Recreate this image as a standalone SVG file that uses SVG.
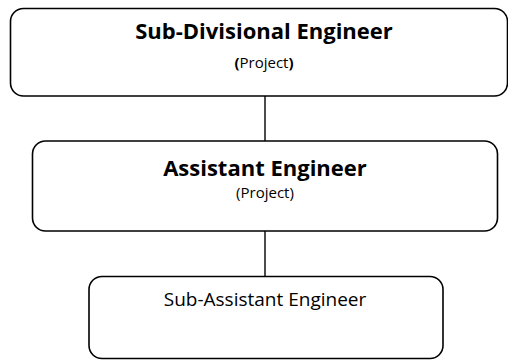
<svg xmlns="http://www.w3.org/2000/svg" width="508" height="360" viewBox="0 0 508 360">
  <style>
    .box { fill: #ffffff; stroke: #000000; stroke-width: 1.6; }
    .link { stroke: #000000; stroke-width: 1.4; fill: none; }
    .title { font-family: "Open Sans", "Noto Sans", sans-serif; font-weight: bold; font-size: 22px; fill: #000000; text-anchor: middle; }
    .sub { font-family: "Open Sans", "Noto Sans", sans-serif; font-size: 15px; fill: #000000; text-anchor: middle; }
    .plain { font-family: "Open Sans", "Noto Sans", sans-serif; font-size: 19px; fill: #000000; text-anchor: middle; }
  </style>
  <rect width="508" height="360" fill="#ffffff"/>
  <g id="connectors">
    <line class="link" x1="265" y1="96" x2="265" y2="141"/>
    <line class="link" x1="265" y1="231" x2="265" y2="276"/>
  </g>
  <g id="sde">
    <rect class="box" x="10.5" y="8.5" width="497" height="87.5" rx="13"/>
    <text class="title" x="264" y="39">Sub-Divisional Engineer</text>
    <text class="sub" x="264" y="68"><tspan font-weight="bold">(</tspan>Project<tspan font-weight="bold">)</tspan></text>
  </g>
  <g id="ae">
    <rect class="box" x="32.5" y="141" width="465" height="90" rx="13"/>
    <text class="title" x="265" y="176">Assistant Engineer</text>
    <text class="sub" x="265" y="198">(Project)</text>
  </g>
  <g id="sae">
    <rect class="box" x="89" y="276.5" width="354" height="82" rx="13"/>
    <text class="plain" x="265" y="306">Sub-Assistant Engineer</text>
  </g>
</svg>
